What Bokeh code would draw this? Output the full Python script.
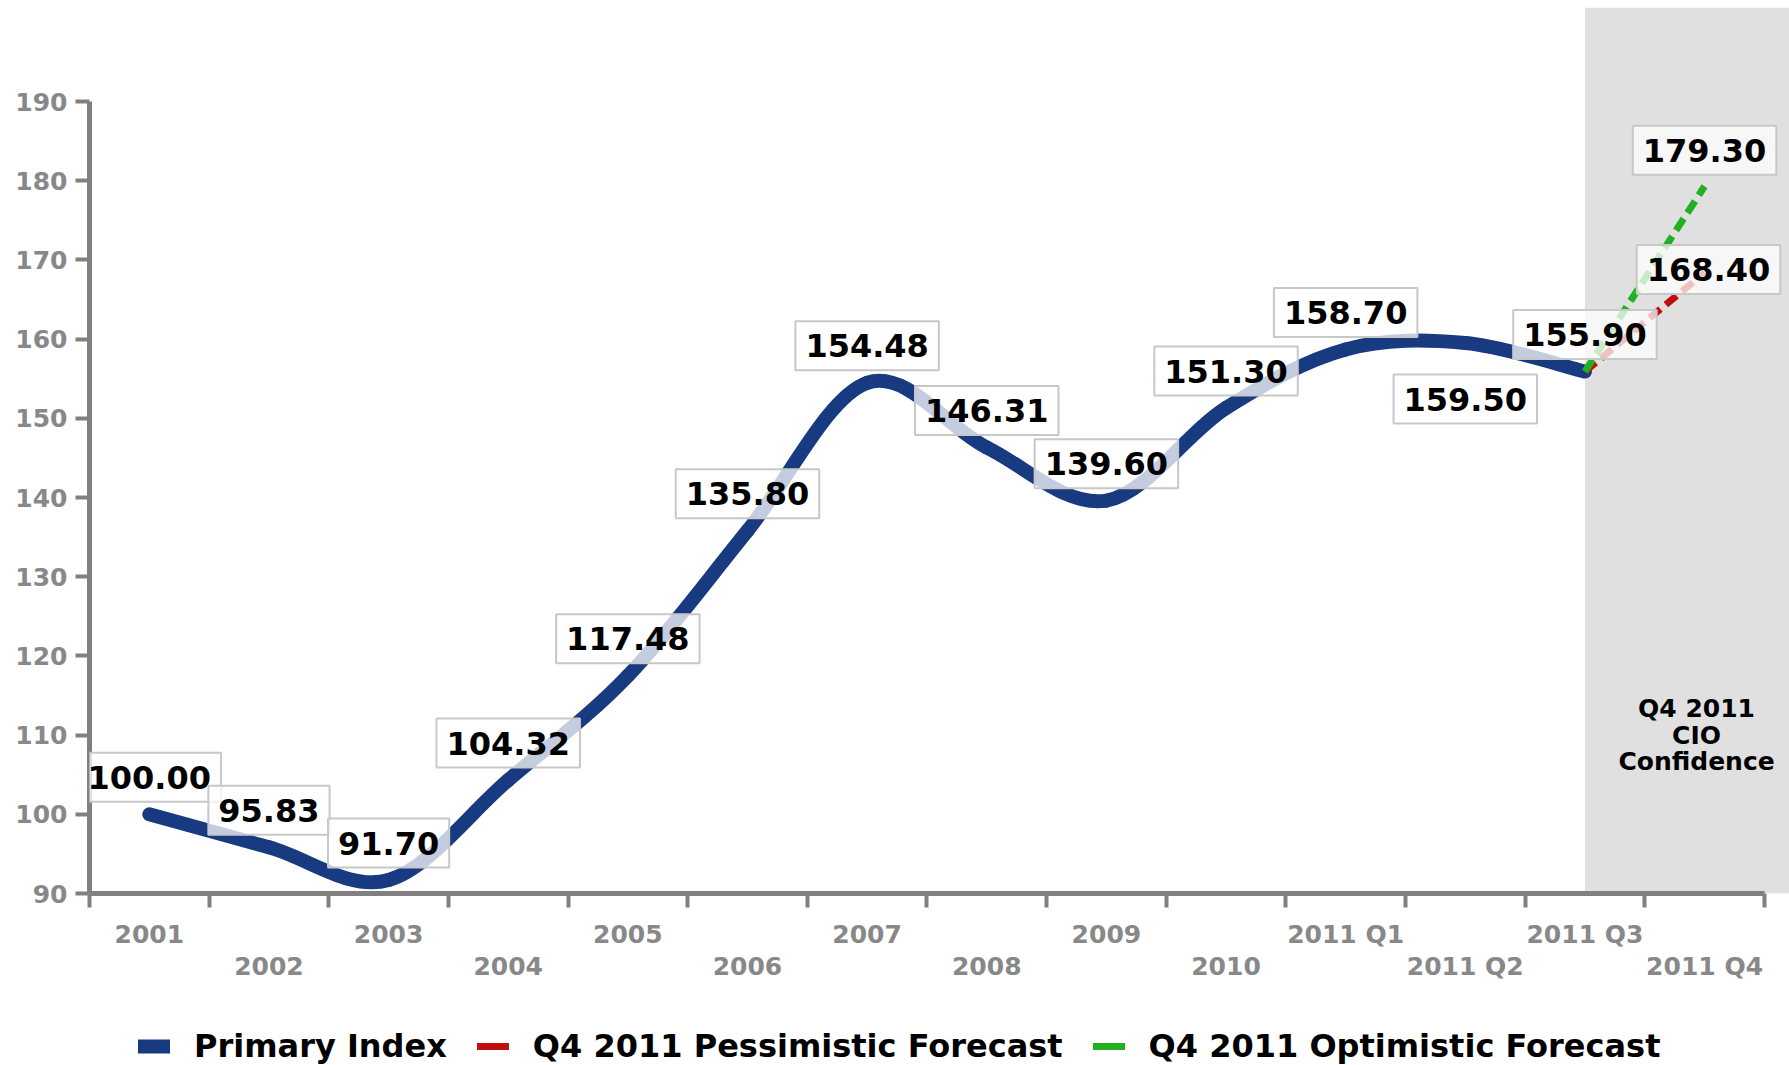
from bokeh.plotting import figure
from bokeh.layouts import column
from bokeh.models import (Range1d, LinearAxis, FixedTicker, BoxAnnotation, Label,
                          Legend, LegendItem)
from bokeh.embed import file_html
from bokeh.resources import INLINE

# ---------------- data ----------------
categories = ["2001", "2002", "2003", "2004", "2005", "2006", "2007", "2008",
              "2009", "2010", "2011 Q1", "2011 Q2", "2011 Q3", "2011 Q4"]
primary_index = [100.00, 95.83, 91.70, 104.32, 117.48, 135.80, 154.48,
                 146.31, 139.60, 151.30, 158.70, 159.50, 155.90]
forecast_categories = ["2011 Q3", "2011 Q4"]
pessimistic_forecast = [155.90, 168.40]
optimistic_forecast = [155.90, 179.30]
y_ticks = [90, 100, 110, 120, 130, 140, 150, 160, 170, 180, 190]
series_names = ["Primary Index", "Q4 2011 Pessimistic Forecast",
                "Q4 2011 Optimistic Forecast"]
shade_text = "Q4 2011\nCIO\nConfidence"

# ---------------- style ----------------
NAVY = "#173a80"
RED = "#c00d0d"
GREEN = "#20b020"
AXIS_GREY = "#808080"
LABEL_GREY = "#888888"
FONT = "DejaVu Sans"
TICK_FS = "25px"

n_cat = len(categories)


def cx(cat):
    return categories.index(cat) + 0.5


p = figure(width=1789, height=1000,
           x_range=Range1d(0, n_cat + 0.21), y_range=Range1d(90, 201.87),
           output_backend="svg", toolbar_location=None,
           x_axis_location=None, y_axis_location=None,
           min_border_left=89, min_border_right=0, min_border_top=7,
           min_border_bottom=107, background_fill_color="white",
           border_fill_color="white", outline_line_color=None)
p.grid.visible = False

# shaded forecast region
p.add_layout(BoxAnnotation(left=cx("2011 Q3"), fill_color="#e0e0e0",
                           fill_alpha=1.0, line_color=None, level="underlay"))

# ---------------- axes ----------------
yaxis = LinearAxis(ticker=FixedTicker(ticks=y_ticks, minor_ticks=[]), bounds=(90, 190),
                   axis_line_color=AXIS_GREY, axis_line_width=5,
                   major_tick_line_color=AXIS_GREY, major_tick_line_width=4,
                   major_tick_out=14, major_tick_in=0,
                   minor_tick_line_color=None,
                   major_label_text_font=FONT, major_label_text_font_style="bold",
                   major_label_text_font_size=TICK_FS,
                   major_label_text_color=LABEL_GREY, major_label_standoff=8)
p.add_layout(yaxis, "left")

boundaries = list(range(n_cat + 1))
row1 = [i + 0.5 for i in range(0, n_cat, 2)]
row2 = [i + 0.5 for i in range(1, n_cat, 2)]

xaxis = LinearAxis(ticker=FixedTicker(ticks=row1, minor_ticks=boundaries),
                   bounds=(0, n_cat),
                   major_label_overrides={i + 0.5: categories[i] for i in range(0, n_cat, 2)},
                   axis_line_color=AXIS_GREY, axis_line_width=5,
                   major_tick_line_color=None, major_tick_out=14, major_tick_in=0,
                   minor_tick_line_color=AXIS_GREY, minor_tick_line_width=4,
                   minor_tick_out=14, minor_tick_in=0,
                   major_label_text_font=FONT, major_label_text_font_style="bold",
                   major_label_text_font_size=TICK_FS,
                   major_label_text_color=LABEL_GREY, major_label_standoff=12)
p.add_layout(xaxis, "below")

xaxis2 = LinearAxis(ticker=FixedTicker(ticks=row2, minor_ticks=[]),
                    bounds=(0, n_cat),
                    major_label_overrides={i + 0.5: categories[i] for i in range(1, n_cat, 2)},
                    axis_line_color=None,
                    major_tick_line_color=None, major_tick_out=0, major_tick_in=0,
                    minor_tick_line_color=None,
                    major_label_text_font=FONT, major_label_text_font_style="bold",
                    major_label_text_font_size=TICK_FS,
                    major_label_text_color=LABEL_GREY, major_label_standoff=0)
p.add_layout(xaxis2, "below")

# ---------------- primary index (smooth curve through the points) ----------------
xs = [i + 0.5 for i in range(len(primary_index))]
ys = primary_index
n = len(xs)


def pt(k):
    k = min(max(k, 0), n - 1)
    return xs[k], ys[k]


bx0, by0, bx1, by1, bcx0, bcy0, bcx1, bcy1 = ([] for _ in range(8))
for i in range(n - 1):
    xa, ya = pt(i)
    xb, yb = pt(i + 1)
    xp, yp = pt(i - 1)
    xn, yn = pt(i + 2)
    bx0.append(xa); by0.append(ya); bx1.append(xb); by1.append(yb)
    bcx0.append(xa + (xb - xp) / 6.0); bcy0.append(ya + (yb - yp) / 6.0)
    bcx1.append(xb - (xn - xa) / 6.0); bcy1.append(yb - (yn - ya) / 6.0)

p.bezier(x0=bx0, y0=by0, x1=bx1, y1=by1, cx0=bcx0, cy0=bcy0, cx1=bcx1, cy1=bcy1,
         line_color=NAVY, line_width=14, line_cap="round")

fx = [cx(c) for c in forecast_categories]
p.line(fx, pessimistic_forecast, line_color=RED, line_width=7,
       line_dash="14 7", line_cap="butt")
p.line(fx, optimistic_forecast, line_color=GREEN, line_width=7,
       line_dash="14 7", line_cap="butt")

# ---------------- value labels ----------------
label_style = dict(text_font=FONT, text_font_style="bold", text_font_size="32px",
                   text_color="black", text_align="center", text_baseline="middle",
                   background_fill_color="white", background_fill_alpha=0.75,
                   border_line_color="#c8c8c8", border_line_width=2,
                   padding=dict(left=10, right=10, top=13, bottom=13))

for i, v in enumerate(primary_index):
    dy = -56 if categories[i] == "2011 Q2" else 37
    p.add_layout(Label(x=xs[i], y=v, text=f"{v:.2f}", y_offset=dy, **label_style))

p.add_layout(Label(x=fx[1], y=optimistic_forecast[1], text=f"{optimistic_forecast[1]:.2f}",
                   y_offset=36, **label_style))
p.add_layout(Label(x=fx[1], y=pessimistic_forecast[1], text=f"{pessimistic_forecast[1]:.2f}",
                   x_offset=4, y_offset=3, **label_style))

# shaded-region caption
p.add_layout(Label(x=cx("2011 Q4"), y=110, x_offset=-8, text=shade_text,
                   text_font=FONT, text_font_style="bold", text_font_size="25px",
                   text_color="black", text_align="center", text_baseline="middle",
                   text_line_height=0.92))

# ---------------- legend (strip below the chart) ----------------
lf = figure(width=1789, height=65, x_range=Range1d(0, 1), y_range=Range1d(0, 1),
            output_backend="svg", toolbar_location=None,
            x_axis_location=None, y_axis_location=None,
            min_border_left=0, min_border_right=0, min_border_top=0,
            min_border_bottom=0, outline_line_color=None,
            background_fill_color="white", border_fill_color="white")
lf.grid.visible = False

nan = float("nan")
r_main = lf.line([nan], [nan], line_color=NAVY, line_width=14, line_cap="round")
r_pess = lf.line([nan], [nan], line_color=RED, line_width=7, line_cap="round")
r_opt = lf.line([nan], [nan], line_color=GREEN, line_width=7, line_cap="round")

legend = Legend(items=[LegendItem(label=series_names[0], renderers=[r_main]),
                       LegendItem(label=series_names[1], renderers=[r_pess]),
                       LegendItem(label=series_names[2], renderers=[r_opt])],
                orientation="horizontal", location=(49, 0),
                glyph_width=32, glyph_height=20, label_standoff=24, spacing=30,
                padding=0, margin=0, border_line_color=None,
                background_fill_alpha=0,
                label_text_font=FONT, label_text_font_style="bold",
                label_text_font_size="32px", label_text_color="black")
lf.add_layout(legend)

layout = column(p, lf, spacing=0)

open("out.html", "w").write(file_html(layout, INLINE))
